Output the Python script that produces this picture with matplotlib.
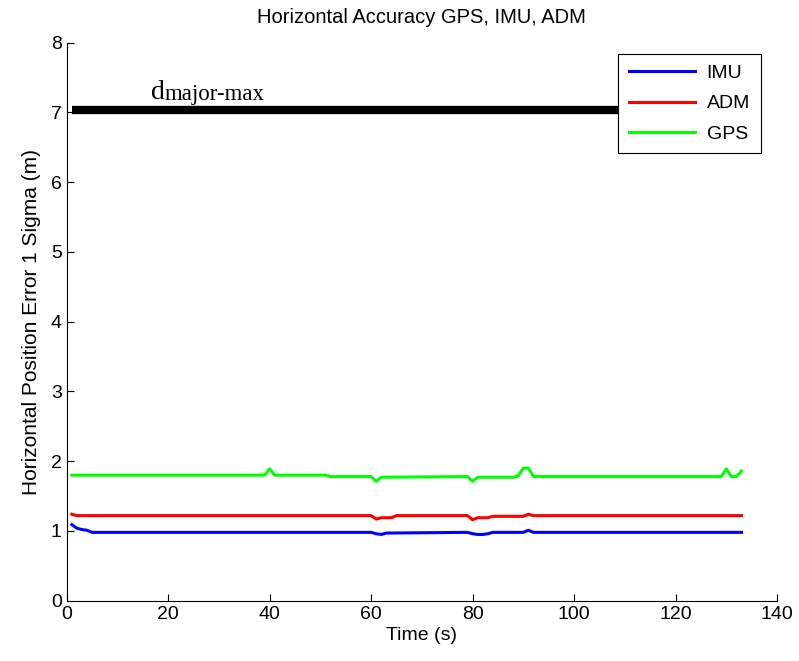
# Horizontal accuracy of GPS / IMU / ADM solutions over time
import numpy as np
import matplotlib.pyplot as plt

plt.rcParams['font.family'] = ['Liberation Sans', 'DejaVu Sans']

# IMU position error breakpoints (time in s, error in m)
imu_t = [1, 2, 3, 4, 5, 60, 61, 62, 63, 79, 80, 81, 82, 83, 84, 90, 91, 92, 133]
imu_v = [1.09, 1.04, 1.02, 1.01, 0.98, 0.98, 0.96, 0.95, 0.97, 0.98, 0.96, 0.95,
         0.95, 0.96, 0.98, 0.98, 1.01, 0.98, 0.98]

# ADM
adm_t = [1, 2, 60, 61, 62, 64, 65, 79, 80, 81, 83, 84, 90, 91, 92, 133]
adm_v = [1.24, 1.22, 1.22, 1.17, 1.19, 1.19, 1.22, 1.22, 1.16, 1.19, 1.19, 1.21,
         1.21, 1.24, 1.22, 1.22]

# GPS
gps_t = [1, 39, 40, 41, 51, 52, 60, 61, 62, 79, 80, 81, 88, 89, 90, 91, 92,
         129, 130, 131, 132, 133]
gps_v = [1.80, 1.80, 1.89, 1.80, 1.80, 1.78, 1.78, 1.71, 1.77, 1.78, 1.71, 1.77,
         1.77, 1.79, 1.90, 1.90, 1.78, 1.78, 1.89, 1.78, 1.78, 1.86]

# max allowed major axis
dmax_t = [1, 133]
dmax_v = [7.03, 7.03]

fig = plt.figure(figsize=(7.99, 6.61), dpi=100)
ax = fig.add_axes([0.0835, 0.0912, 0.889, 0.8442])

ax.plot(dmax_t, dmax_v, color='black', linewidth=6, solid_capstyle='butt')
ax.plot(imu_t, imu_v, color='#0000ff', linewidth=2.2, label='IMU')
ax.plot(adm_t, adm_v, color='#ff0000', linewidth=2.2, label='ADM')
ax.plot(gps_t, gps_v, color='#00ff00', linewidth=2.2, label='GPS')

# d_major-max label, serif like the original
ax.text(16.7, 7.20, 'd', fontsize=20, family='Liberation Serif')
ax.annotate('major-max', xy=(16.7, 7.20), xytext=(9.3, -1),
            textcoords='offset points', fontsize=16.5, family='Liberation Serif')

ax.set_xlim(0, 140)
ax.set_ylim(0, 8)
ax.set_xticks(np.arange(0, 141, 20))
ax.set_yticks(np.arange(0, 9, 1))
ax.tick_params(direction='in', labelsize=14, length=5, width=0.8)
ax.spines['top'].set_visible(False)
ax.spines['right'].set_visible(False)

ax.set_title('Horizontal Accuracy GPS, IMU, ADM', fontsize=14.5, pad=14)
ax.set_xlabel('Time (s)', fontsize=14, labelpad=3)
ax.set_ylabel('Horizontal Position Error 1 Sigma (m)', fontsize=15, labelpad=7)

leg = ax.legend(loc='upper right', bbox_to_anchor=(0.977, 0.98), borderaxespad=0,
                fontsize=14, handlelength=3.4, handletextpad=0.6, borderpad=0.55,
                fancybox=False, framealpha=1, edgecolor='black', labelspacing=0.65)
leg.get_frame().set_linewidth(0.8)

plt.savefig('out.png', dpi=100)
